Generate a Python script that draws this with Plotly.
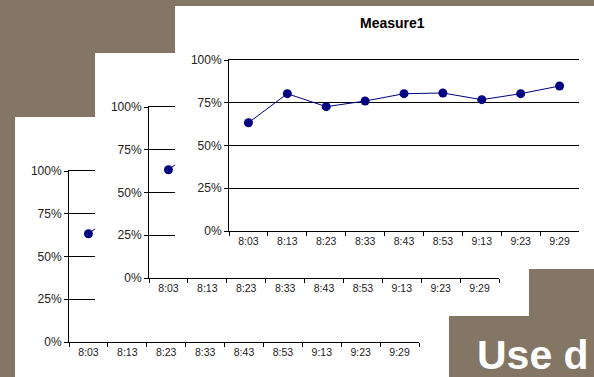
import plotly.graph_objects as go

# ---- data ----
categories = ["8:03", "8:13", "8:23", "8:33", "8:43", "8:53", "9:13", "9:23", "9:29"]
measure1 = [0.633, 0.803, 0.727, 0.760, 0.803, 0.807, 0.768, 0.803, 0.848]
y_ticks = [0, 0.25, 0.5, 0.75, 1.0]
chart_title = "Measure1"
caption = "Use d"

# ---- layout constants ----
W, H = 594, 377
BROWN = "#837664"
NAVY = "#000080"
FONT = "Liberation Sans, Arial, sans-serif"

# panel top-left corners (back to front) and panel size
panels = [(15, 117), (95, 53), (175, 6)]
PW, PH = 434, 263
# plot area offsets inside a panel
AX_L, AX_R, AX_T, AX_B = 54, 404, 54, 225


def xdom(x0, x1):
    return [max(0, x0 / W), min(1, x1 / W)]


def ydom(y0, y1):
    return [max(0, 1 - y1 / H), min(1, 1 - y0 / H)]


fig = go.Figure()
layout_axes = {}
n = 0
for (px, py) in panels:
    # cover subplot (white panel)
    n += 1
    xa = "x" if n == 1 else f"x{n}"
    ya = "y" if n == 1 else f"y{n}"
    fig.add_trace(go.Scatter(x=[None], y=[None], xaxis=xa, yaxis=ya,
                             showlegend=False, hoverinfo="skip"))
    layout_axes["xaxis" if n == 1 else f"xaxis{n}"] = dict(
        domain=xdom(px, px + PW), anchor=ya, visible=False, range=[0, 1],
        automargin=False)
    layout_axes["yaxis" if n == 1 else f"yaxis{n}"] = dict(
        domain=ydom(py, py + PH), anchor=xa, visible=False, range=[0, 1],
        automargin=False)

    # chart subplot
    n += 1
    xa = f"x{n}"
    ya = f"y{n}"
    fig.add_trace(go.Scatter(
        x=categories, y=measure1, xaxis=xa, yaxis=ya,
        mode="lines+markers",
        line=dict(color=NAVY, width=1),
        marker=dict(color=NAVY, size=9),
        showlegend=False, hoverinfo="skip"))
    layout_axes[f"xaxis{n}"] = dict(
        domain=xdom(px + AX_L, px + AX_R), anchor=ya,
        type="category", categoryorder="array", categoryarray=categories,
        range=[-0.5, len(categories) - 0.5],
        showline=True, linecolor="black", linewidth=1, mirror=True,
        ticks="outside", ticklen=4, tickcolor="black", tickwidth=1,
        tickson="boundaries", showgrid=False, zeroline=False,
        tickfont=dict(family=FONT, size=10.5, color="#222222"),
        automargin=False, fixedrange=True)
    layout_axes[f"yaxis{n}"] = dict(
        domain=ydom(py + AX_T, py + AX_B), anchor=xa,
        range=[0, 1], tickvals=y_ticks, tickformat=".0%",
        showline=True, linecolor="black", linewidth=1,
        ticks="outside", ticklen=4, tickcolor="black", tickwidth=1,
        showgrid=True, gridcolor="black", gridwidth=1, zeroline=False,
        tickfont=dict(family=FONT, size=12, color="#222222"),
        automargin=False, fixedrange=True)

front_x, front_y = panels[-1]
annotations = [
    dict(text=chart_title, xref="paper", yref="paper",
         x=(front_x + PW / 2) / W, y=1 - (front_y + 17) / H,
         xanchor="center", yanchor="middle", showarrow=False,
         font=dict(family=FONT, size=14, color="black", weight="bold")),
    dict(text=caption, xref="paper", yref="paper",
         x=475 / W, y=1 - 355 / H, xanchor="left", yanchor="middle",
         showarrow=False,
         font=dict(family=FONT, size=41, color="white", weight="bold")),
]

fig.update_layout(
    template="none",
    width=W, height=H, autosize=False,
    margin=dict(l=0, r=0, t=0, b=0, pad=0),
    paper_bgcolor=BROWN, plot_bgcolor="white",
    annotations=annotations,
    **layout_axes,
)

fig.write_html("out.html", config={"displayModeBar": False})
